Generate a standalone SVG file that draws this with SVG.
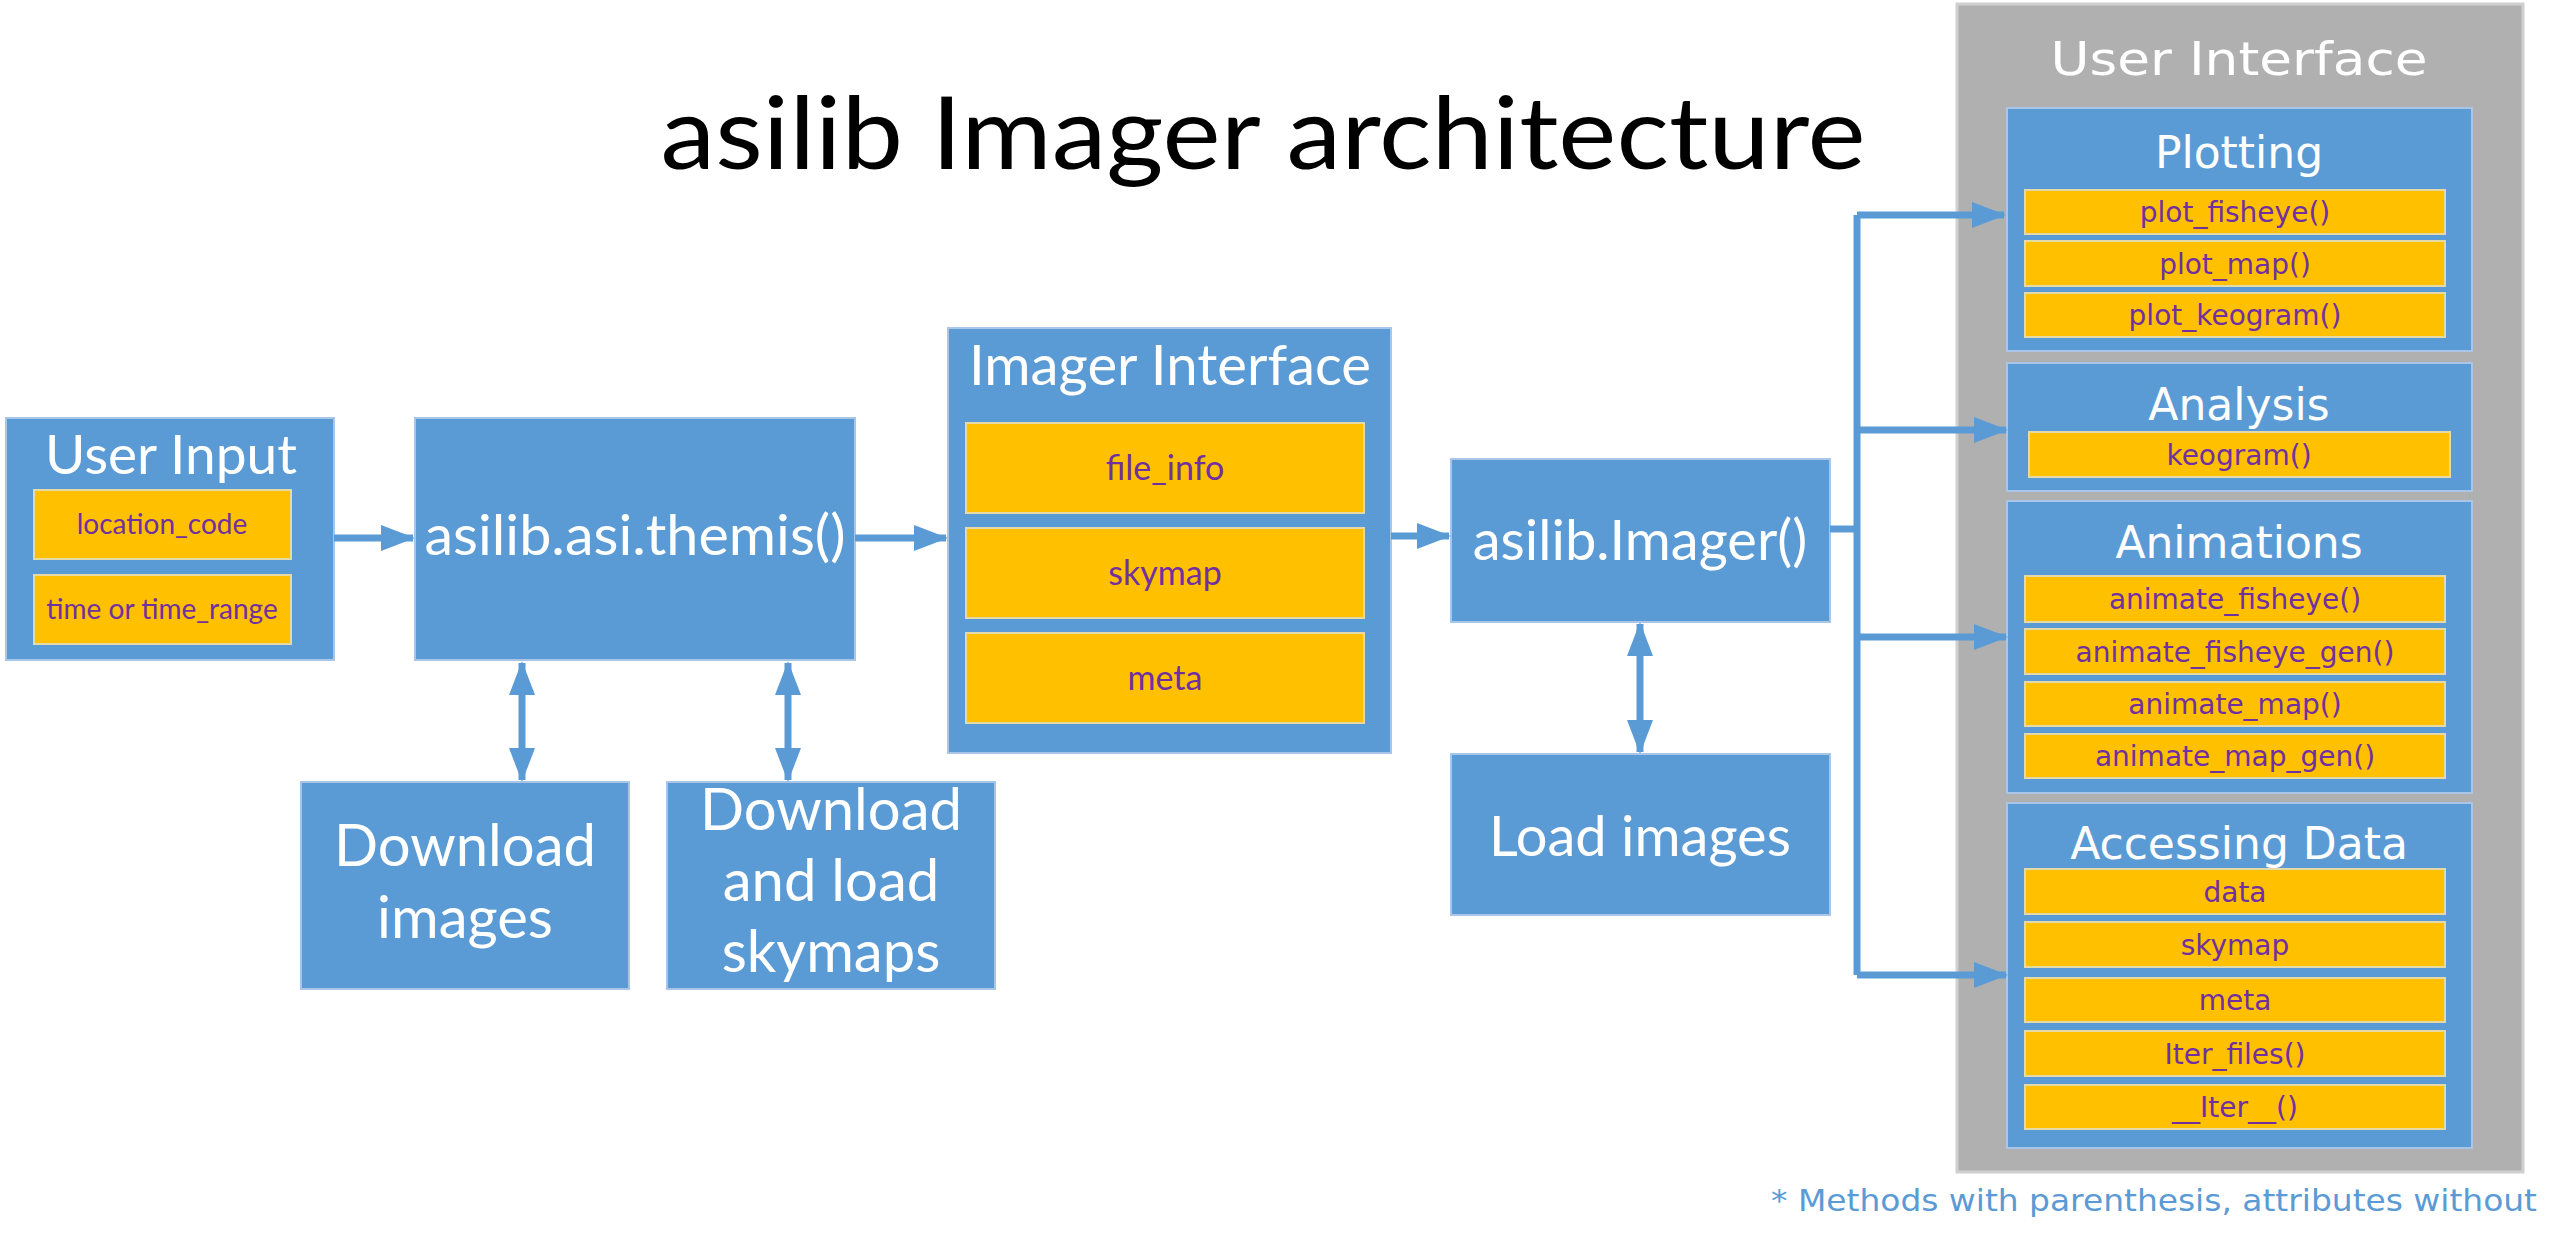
<svg xmlns="http://www.w3.org/2000/svg" width="2564" height="1235" viewBox="0 0 2564 1235">
<style>
.b{fill:#5b9bd5;stroke:#a9c6e8;stroke-width:2}
.y{fill:#ffc000;stroke:#e6d9a8;stroke-width:2}
.w{fill:#fff;font-family:Lato,"Open Sans",sans-serif;text-anchor:middle}
.p{fill:#7030a0;font-family:Lato,"Open Sans",sans-serif;text-anchor:middle}
.wv{fill:#fff;font-family:"DejaVu Sans",Verdana,sans-serif;text-anchor:middle}
.pv{fill:#7030a0;font-family:"DejaVu Sans",Verdana,sans-serif;text-anchor:middle;font-size:28px}
.c{stroke:#5b9bd5;stroke-width:7;fill:none}
</style>
<defs>
<marker id="a" markerUnits="userSpaceOnUse" markerWidth="34" markerHeight="26" refX="32" refY="13" orient="auto-start-reverse"><path d="M0,0 L34,13 L0,26 Z" fill="#5b9bd5"/></marker>
</defs>
<rect width="2564" height="1235" fill="#fff"/>
<text x="1263" y="169" font-family="Lato,'Open Sans',sans-serif" font-size="100" text-anchor="middle" textLength="1205" lengthAdjust="spacingAndGlyphs">asilib Imager architecture</text>

<g id="userinput">
<rect class="b" x="6" y="418" width="328" height="242"/>
<text class="w" x="171" y="474" font-size="54" textLength="252" lengthAdjust="spacingAndGlyphs">User Input</text>
<rect class="y" x="34" y="490" width="257" height="69"/>
<text class="p" x="162" y="534" font-size="28">location_code</text>
<rect class="y" x="34" y="575" width="257" height="69"/>
<text class="p" x="162" y="619" font-size="28">time or time_range</text>
</g>
<g id="themis">
<rect class="b" x="415" y="418" width="440" height="242"/>
<text class="w" x="635" y="555" font-size="56" textLength="421" lengthAdjust="spacingAndGlyphs">asilib.asi.themis()</text>
</g>
<g id="dlimages">
<rect class="b" x="301" y="782" width="328" height="207"/>
<text class="w" x="465" y="866" font-size="58">Download</text>
<text class="w" x="465" y="938" font-size="58">images</text>
</g>
<g id="dlskymaps">
<rect class="b" x="667" y="782" width="328" height="207"/>
<text class="w" x="831" y="830" font-size="58">Download</text>
<text class="w" x="831" y="901" font-size="58">and load</text>
<text class="w" x="831" y="972" font-size="58">skymaps</text>
</g>
<g id="imagerinterface">
<rect class="b" x="948" y="328" width="443" height="425"/>
<text class="w" x="1170" y="385" font-size="56" textLength="402" lengthAdjust="spacingAndGlyphs">Imager Interface</text>
<rect class="y" x="966" y="423" width="398" height="90"/>
<text class="p" x="1165" y="480" font-size="34">file_info</text>
<rect class="y" x="966" y="528" width="398" height="90"/>
<text class="p" x="1165" y="585" font-size="34">skymap</text>
<rect class="y" x="966" y="633" width="398" height="90"/>
<text class="p" x="1165" y="690" font-size="34">meta</text>
</g>
<g id="imager">
<rect class="b" x="1451" y="459" width="379" height="163"/>
<text class="w" x="1640" y="560" font-size="56">asilib.Imager()</text>
</g>
<g id="loadimages">
<rect class="b" x="1451" y="754" width="379" height="161"/>
<text class="w" x="1640" y="856" font-size="56">Load images</text>
</g>

<g id="ui">
<rect x="1957" y="4" width="566" height="1168" fill="#b0b0b0" stroke="#d0d0d0" stroke-width="3"/>
<text class="wv" x="2239" y="75" font-size="46" textLength="377" lengthAdjust="spacingAndGlyphs">User Interface</text>
</g>
<g id="plotting">
<rect class="b" x="2007" y="108" width="465" height="243"/>
<text class="wv" x="2239" y="168" font-size="44">Plotting</text>
<rect class="y" x="2025" y="190" width="420" height="44"/><text class="pv" x="2235" y="222">plot_fisheye()</text>
<rect class="y" x="2025" y="241" width="420" height="45"/><text class="pv" x="2235" y="274">plot_map()</text>
<rect class="y" x="2025" y="293" width="420" height="44"/><text class="pv" x="2235" y="325">plot_keogram()</text>
</g>
<g id="analysis">
<rect class="b" x="2007" y="363" width="465" height="128"/>
<text class="wv" x="2239" y="420" font-size="44">Analysis</text>
<rect class="y" x="2029" y="432" width="421" height="45"/><text class="pv" x="2239" y="465">keogram()</text>
</g>
<g id="animations">
<rect class="b" x="2007" y="501" width="465" height="292"/>
<text class="wv" x="2239" y="558" font-size="44">Animations</text>
<rect class="y" x="2025" y="576" width="420" height="46"/><text class="pv" x="2235" y="609">animate_fisheye()</text>
<rect class="y" x="2025" y="629" width="420" height="45"/><text class="pv" x="2235" y="662">animate_fisheye_gen()</text>
<rect class="y" x="2025" y="682" width="420" height="44"/><text class="pv" x="2235" y="714">animate_map()</text>
<rect class="y" x="2025" y="734" width="420" height="44"/><text class="pv" x="2235" y="766">animate_map_gen()</text>
</g>
<g id="accessing">
<rect class="b" x="2007" y="803" width="465" height="345"/>
<text class="wv" x="2239" y="859" font-size="44">Accessing Data</text>
<rect class="y" x="2025" y="869" width="420" height="45"/><text class="pv" x="2235" y="902">data</text>
<rect class="y" x="2025" y="922" width="420" height="45"/><text class="pv" x="2235" y="955">skymap</text>
<rect class="y" x="2025" y="978" width="420" height="44"/><text class="pv" x="2235" y="1010">meta</text>
<rect class="y" x="2025" y="1031" width="420" height="45"/><text class="pv" x="2235" y="1064">Iter_files()</text>
<rect class="y" x="2025" y="1085" width="420" height="44"/><text class="pv" x="2235" y="1117">__Iter__()</text>
</g>
<text x="2537" y="1211" font-family="'DejaVu Sans',Verdana,sans-serif" font-size="30" fill="#5b9bd5" text-anchor="end" textLength="766" lengthAdjust="spacingAndGlyphs">* Methods with parenthesis, attributes without</text>

<g id="connectors" class="c">
<line x1="334" y1="538" x2="413" y2="538" marker-end="url(#a)"/>
<line x1="855" y1="538" x2="946" y2="538" marker-end="url(#a)"/>
<line x1="1391" y1="536" x2="1449" y2="536" marker-end="url(#a)"/>
<line x1="522" y1="663" x2="522" y2="780" marker-start="url(#a)" marker-end="url(#a)"/>
<line x1="788" y1="663" x2="788" y2="780" marker-start="url(#a)" marker-end="url(#a)"/>
<line x1="1640" y1="624" x2="1640" y2="752" marker-start="url(#a)" marker-end="url(#a)"/>
<polyline points="1830,529 1857,529"/>
<polyline points="1857,215 1857,975"/>
<line x1="1857" y1="215" x2="2004" y2="215" marker-end="url(#a)"/>
<line x1="1857" y1="430" x2="2006" y2="430" marker-end="url(#a)"/>
<line x1="1857" y1="637" x2="2006" y2="637" marker-end="url(#a)"/>
<line x1="1857" y1="975" x2="2006" y2="975" marker-end="url(#a)"/>
</g>
</svg>
